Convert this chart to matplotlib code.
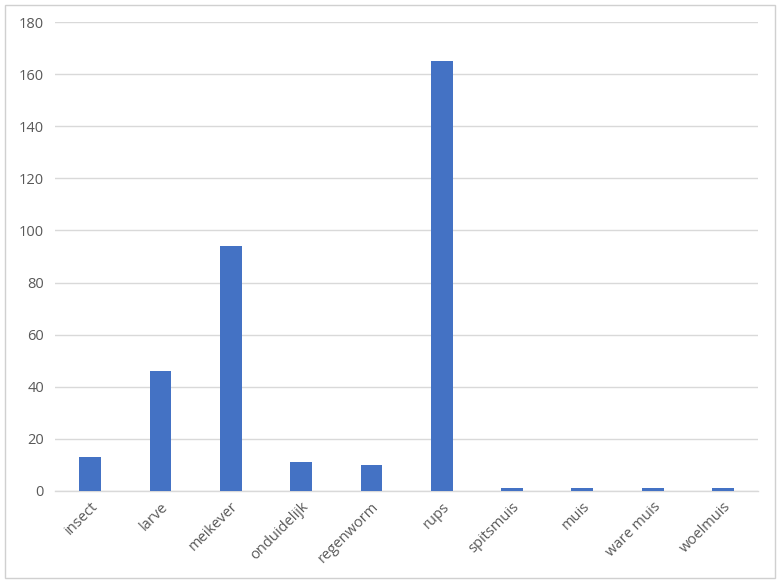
import matplotlib
matplotlib.use("Agg")
import matplotlib.pyplot as plt
import matplotlib.transforms as mtransforms
from matplotlib.patches import Rectangle

categories = ["insect", "larve", "meikever", "onduidelijk", "regenworm",
              "rups", "spitsmuis", "muis", "ware muis", "woelmuis"]
counts = [13, 46, 94, 11, 10, 165, 1, 1, 1, 1]
yticks = list(range(0, 181, 20))

BAR_COLOR = "#4472C4"
GRID_COLOR = "#D9D9D9"
TEXT_COLOR = "#595959"

plt.rcParams["font.family"] = ["Open Sans", "DejaVu Sans"]

fig = plt.figure(figsize=(7.8, 5.83), dpi=100)
ax = fig.add_axes([0.0705, 0.158, 0.9015, 0.804])

x = list(range(len(categories)))
ax.bar(x, counts, width=0.31, color=BAR_COLOR, zorder=3)

ax.set_xlim(-0.5, len(categories) - 0.5)
ax.set_ylim(0, 180)
ax.set_yticks(yticks)
ax.set_xticks(x)
ax.set_xticklabels(categories, rotation=45, ha="right", va="top",
                   rotation_mode="anchor", color=TEXT_COLOR, fontsize=10.5)
# Excel puts the label end a little right of the category centre
shift = mtransforms.ScaledTranslation(8 / 72, 0, fig.dpi_scale_trans)
for lbl in ax.get_xticklabels():
    lbl.set_transform(lbl.get_transform() + shift)
for lbl in ax.get_yticklabels():
    lbl.set_color(TEXT_COLOR)
    lbl.set_fontsize(10.5)

ax.grid(axis="y", color=GRID_COLOR, linewidth=1, zorder=0)
ax.tick_params(length=0, pad=8)
ax.tick_params(axis="x", pad=6)
for side in ["top", "right", "left"]:
    ax.spines[side].set_visible(False)
ax.spines["bottom"].set_color(GRID_COLOR)
ax.spines["bottom"].set_linewidth(1)

# chart-area border as in the spreadsheet export
fig.patches.append(Rectangle((0.006, 0.009), 0.988, 0.983, transform=fig.transFigure,
                             fill=False, edgecolor="#D0D0D0", linewidth=1))

fig.savefig("out.png", dpi=100)
